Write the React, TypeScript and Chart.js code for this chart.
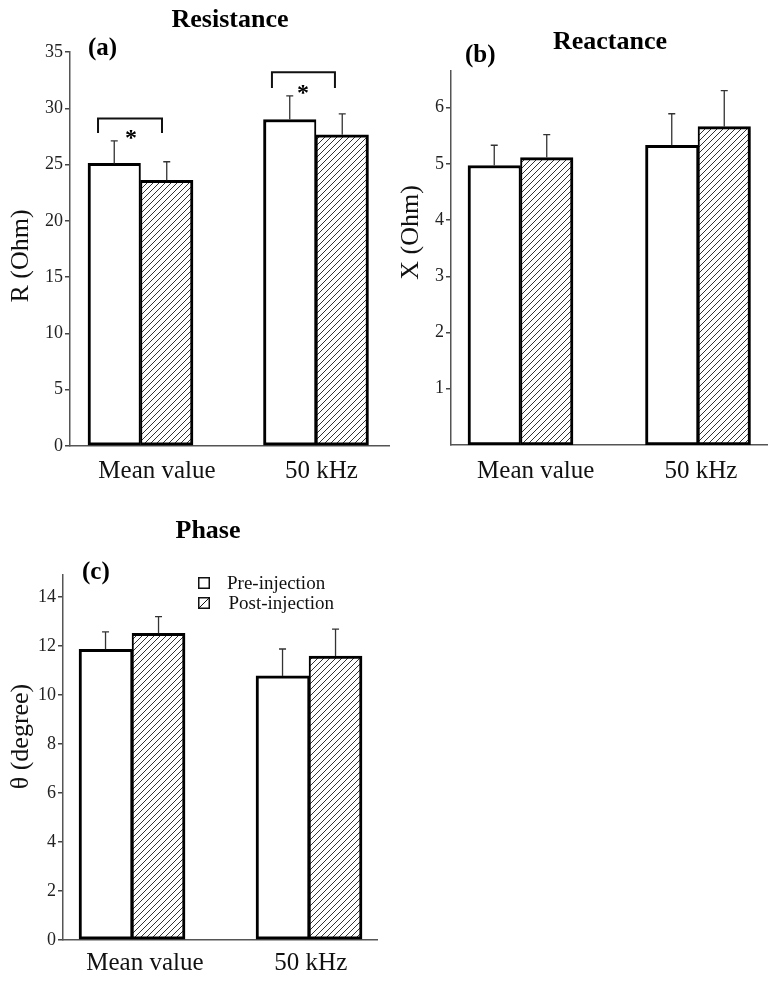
import React, { useEffect, useRef } from 'react';
import { Chart, registerables } from 'chart.js';

Chart.register(...registerables);

const SERIF = "'Liberation Serif', 'Times New Roman', Times, serif";

// ---------- data ----------
const categories = ['Mean value', '50 kHz'];
const seriesLabels = ['Pre-injection', 'Post-injection'];
const categoryX = [1, 2];

const resistancePre = [25.1, 29.0];
const resistancePreErr = [2.0, 2.1];
const resistancePost = [23.6, 27.65];
const resistancePostErr = [1.65, 1.85];
const resistanceTicks = [0, 5, 10, 15, 20, 25, 30, 35];

const reactancePre = [4.97, 5.33];
const reactancePreErr = [0.36, 0.56];
const reactancePost = [5.11, 5.66];
const reactancePostErr = [0.41, 0.64];
const reactanceTicks = [1, 2, 3, 4, 5, 6];

const phasePre = [11.87, 10.78];
const phasePreErr = [0.71, 1.1];
const phasePost = [12.52, 11.59];
const phasePostErr = [0.68, 1.1];
const phaseTicks = [0, 2, 4, 6, 8, 10, 12, 14];

// significance brackets (data units)
const resistanceBrackets = [
  { from: 0.758, to: 1.1225, top: 29.1, leg: 27.8, starX: 0.946, starY: 27.83 },
  { from: 1.749, to: 2.108, top: 33.2, leg: 31.8, starX: 1.926, starY: 31.77 },
];

type Bracket = { from: number; to: number; top: number; leg: number; starX: number; starY: number };

type Panel = {
  key: string;
  left: number; top: number; width: number; height: number;
  pre: number[]; preErr: number[]; post: number[]; postErr: number[];
  yMax: number; yTicks: number[];
  xMin: number; xMax: number; xLabelAt: number[]; xLabelPad: number;
  barThickness: number;
  padTop: number; padRight: number; yWidth: number; xHeight: number;
  title: { text: string; x: number; y: number };
  letter: { text: string; x: number; y: number };
  yTitle: { text: string; x: number; y: number };
  brackets?: Bracket[];
  legend?: { x: number; y: number; gap: number; textX: number };
};

const panels: Panel[] = [
  {
    key: 'a', left: 0, top: 0, width: 390, height: 490,
    pre: resistancePre, preErr: resistancePreErr, post: resistancePost, postErr: resistancePostErr,
    yMax: 35, yTicks: resistanceTicks,
    xMin: 0.5983, xMax: 2.4217, xLabelAt: [1.094, 2.031], xLabelPad: 10,
    barThickness: 52.5,
    padTop: 52, padRight: 0, yWidth: 70, xHeight: 44,
    title: { text: 'Resistance', x: 230, y: 27 },
    letter: { text: '(a)', x: 88, y: 55 },
    yTitle: { text: 'R (Ohm)', x: 21, y: 256 },
    brackets: resistanceBrackets,
  },
  {
    key: 'b', left: 390, top: 0, width: 386, height: 490,
    pre: reactancePre, preErr: reactancePreErr, post: reactancePost, postErr: reactancePostErr,
    yMax: 6.65, yTicks: reactanceTicks,
    xMin: 0.6085, xMax: 2.3887, xLabelAt: [1.086, 2.016], xLabelPad: 11,
    barThickness: 52.5,
    padTop: 71, padRight: 9, yWidth: 61, xHeight: 45,
    title: { text: 'Reactance', x: 220, y: 48.5 },
    letter: { text: '(b)', x: 75, y: 61.5 },
    yTitle: { text: 'X (Ohm)', x: 21, y: 232.5 },
  },
  {
    key: 'c', left: 0, top: 490, width: 390, height: 492,
    pre: phasePre, preErr: phasePreErr, post: phasePost, postErr: phasePostErr,
    yMax: 14.9, yTicks: phaseTicks,
    xMin: 0.61, xMax: 2.384, xLabelAt: [1.073, 2.01], xLabelPad: 8,
    barThickness: 53,
    padTop: 85, padRight: 13, yWidth: 63, xHeight: 42,
    title: { text: 'Phase', x: 208, y: 48 },
    letter: { text: '(c)', x: 82, y: 88.5 },
    yTitle: { text: 'θ (degree)', x: 21, y: 246.5 },
    legend: { x: 198, y: 87, gap: 20, textX: 227 },
  },
];

function makeHatch(): CanvasPattern | string {
  const s = 6;
  const c = document.createElement('canvas');
  c.width = s;
  c.height = s;
  const g = c.getContext('2d');
  if (!g) return '#ddd';
  g.fillStyle = '#fff';
  g.fillRect(0, 0, s, s);
  g.strokeStyle = '#333';
  g.lineWidth = 1;
  g.beginPath();
  g.moveTo(0, s); g.lineTo(s, 0);
  g.moveTo(-1, 1); g.lineTo(1, -1);
  g.moveTo(s - 1, s + 1); g.lineTo(s + 1, s - 1);
  g.stroke();
  return g.createPattern(c, 'repeat') || '#ddd';
}

function makeDecor(p: Panel) {
  return {
    id: 'decor' + p.key,
    afterDatasetsDraw(chart: any) {
      const ctx: CanvasRenderingContext2D = chart.ctx;
      const ys = chart.scales.y;
      ctx.save();
      ctx.strokeStyle = '#333';
      ctx.lineWidth = 1.3;
      chart.data.datasets.forEach((ds: any, i: number) => {
        const meta = chart.getDatasetMeta(i);
        meta.data.forEach((bar: any, j: number) => {
          const v = ds.data[j].y + ds.errors[j];
          const py = ys.getPixelForValue(v);
          ctx.beginPath();
          ctx.moveTo(bar.x, bar.y);
          ctx.lineTo(bar.x, py);
          ctx.moveTo(bar.x - 3.5, py);
          ctx.lineTo(bar.x + 3.5, py);
          ctx.stroke();
        });
      });
      ctx.restore();
    },
    afterDraw(chart: any) {
      const ctx: CanvasRenderingContext2D = chart.ctx;
      const xs = chart.scales.x;
      const ys = chart.scales.y;
      ctx.save();
      ctx.fillStyle = '#000';
      // title
      ctx.font = `bold 26px ${SERIF}`;
      ctx.textAlign = 'center';
      ctx.textBaseline = 'alphabetic';
      ctx.fillText(p.title.text, p.title.x, p.title.y);
      // panel letter
      ctx.font = `bold 25px ${SERIF}`;
      ctx.textAlign = 'left';
      ctx.fillText(p.letter.text, p.letter.x, p.letter.y);
      // y title
      ctx.save();
      ctx.translate(p.yTitle.x, p.yTitle.y);
      ctx.rotate(-Math.PI / 2);
      ctx.font = `26px ${SERIF}`;
      ctx.textAlign = 'center';
      ctx.textBaseline = 'middle';
      ctx.fillStyle = '#111';
      ctx.fillText(p.yTitle.text, 0, 0);
      ctx.restore();
      // brackets
      if (p.brackets) {
        ctx.strokeStyle = '#111';
        ctx.lineWidth = 2;
        p.brackets.forEach((b) => {
          const x1 = xs.getPixelForValue(b.from);
          const x2 = xs.getPixelForValue(b.to);
          const yt = ys.getPixelForValue(b.top);
          const yl = ys.getPixelForValue(b.leg);
          ctx.beginPath();
          ctx.moveTo(x1, yl);
          ctx.lineTo(x1, yt);
          ctx.lineTo(x2, yt);
          ctx.lineTo(x2, yl);
          ctx.stroke();
          ctx.font = `bold 24px ${SERIF}`;
          ctx.textAlign = 'center';
          ctx.textBaseline = 'alphabetic';
          ctx.fillText('*', xs.getPixelForValue(b.starX), ys.getPixelForValue(b.starY) + 12);
        });
      }
      // legend
      if (p.legend) {
        const L = p.legend;
        ctx.font = `19px ${SERIF}`;
        ctx.textAlign = 'left';
        ctx.textBaseline = 'alphabetic';
        chart.data.datasets.forEach((ds: any, i: number) => {
          const by = L.y + i * L.gap;
          ctx.strokeStyle = '#111';
          ctx.lineWidth = 1.5;
          ctx.fillStyle = '#fff';
          ctx.fillRect(L.x, by, 12, 12);
          ctx.strokeRect(L.x + 0.75, by + 0.75, 10.5, 10.5);
          if (i === 1) {
            ctx.lineWidth = 1;
            ctx.beginPath();
            ctx.moveTo(L.x + 1, by + 11);
            ctx.lineTo(L.x + 11, by + 1);
            ctx.stroke();
          }
          ctx.fillStyle = '#111';
          ctx.fillText(ds.label, L.textX + i * 1.5, by + 12);
        });
      }
      ctx.restore();
    },
  };
}

function PanelChart({ p }: { p: Panel }) {
  const ref = useRef<HTMLCanvasElement>(null);
  useEffect(() => {
    const canvas = ref.current;
    if (!canvas) return;
    const hatch = makeHatch();
    const chart = new Chart(canvas, {
      type: 'bar',
      data: {
        datasets: [
          {
            label: seriesLabels[0],
            data: categoryX.map((x, i) => ({ x, y: p.pre[i] })),
            errors: p.preErr,
            backgroundColor: '#fff',
            borderColor: '#000',
            borderWidth: { top: 3, bottom: 3, left: 3, right: 2 },
            borderSkipped: false,
            barThickness: p.barThickness,
          } as any,
          {
            label: seriesLabels[1],
            data: categoryX.map((x, i) => ({ x, y: p.post[i] })),
            errors: p.postErr,
            backgroundColor: hatch,
            borderColor: '#000',
            borderWidth: { top: 3, bottom: 3, left: 2, right: 3 },
            borderSkipped: false,
            barThickness: p.barThickness,
          } as any,
        ],
      },
      options: {
        responsive: false,
        animation: false,
        devicePixelRatio: 1,
        layout: { padding: { top: p.padTop, right: p.padRight, left: 0, bottom: 0 } },
        plugins: {
          legend: { display: false },
          title: { display: false },
          tooltip: { enabled: false },
        },
        scales: {
          x: {
            type: 'linear',
            min: p.xMin,
            max: p.xMax,
            offset: false,
            grid: { display: false, drawTicks: false, offset: false },
            border: { display: true, color: '#555', width: 1.5 },
            ticks: {
              font: { family: SERIF, size: 25 },
              color: '#111',
              padding: p.xLabelPad,
              maxRotation: 0,
              autoSkip: false,
              callback: (_v: any, i: number) => categories[i],
            },
            afterBuildTicks: (s: any) => {
              s.ticks = p.xLabelAt.map((v) => ({ value: v }));
            },
            afterFit: (s: any) => {
              s.height = p.xHeight;
            },
          },
          y: {
            type: 'linear',
            min: 0,
            max: p.yMax,
            grid: {
              display: true,
              drawOnChartArea: false,
              drawTicks: true,
              tickLength: 5,
              color: '#444',
              lineWidth: 1.5,
            },
            border: { display: true, color: '#555', width: 1.5 },
            ticks: {
              font: { family: SERIF, size: 18 },
              color: '#222',
              padding: 2,
            },
            afterBuildTicks: (s: any) => {
              s.ticks = p.yTicks.map((v) => ({ value: v }));
            },
            afterFit: (s: any) => {
              s.width = p.yWidth;
            },
          },
        },
      } as any,
      plugins: [makeDecor(p)],
    });
    return () => chart.destroy();
  }, [p]);
  return (
    <canvas
      ref={ref}
      width={p.width}
      height={p.height}
      style={{ position: 'absolute', left: p.left, top: p.top, width: p.width, height: p.height }}
    />
  );
}

export default function App() {
  return (
    <div style={{ position: 'absolute', left: 0, top: 0, width: 776, height: 982, background: '#fff', overflow: 'hidden' }}>
      {panels.map((p) => (
        <PanelChart key={p.key} p={p} />
      ))}
    </div>
  );
}
